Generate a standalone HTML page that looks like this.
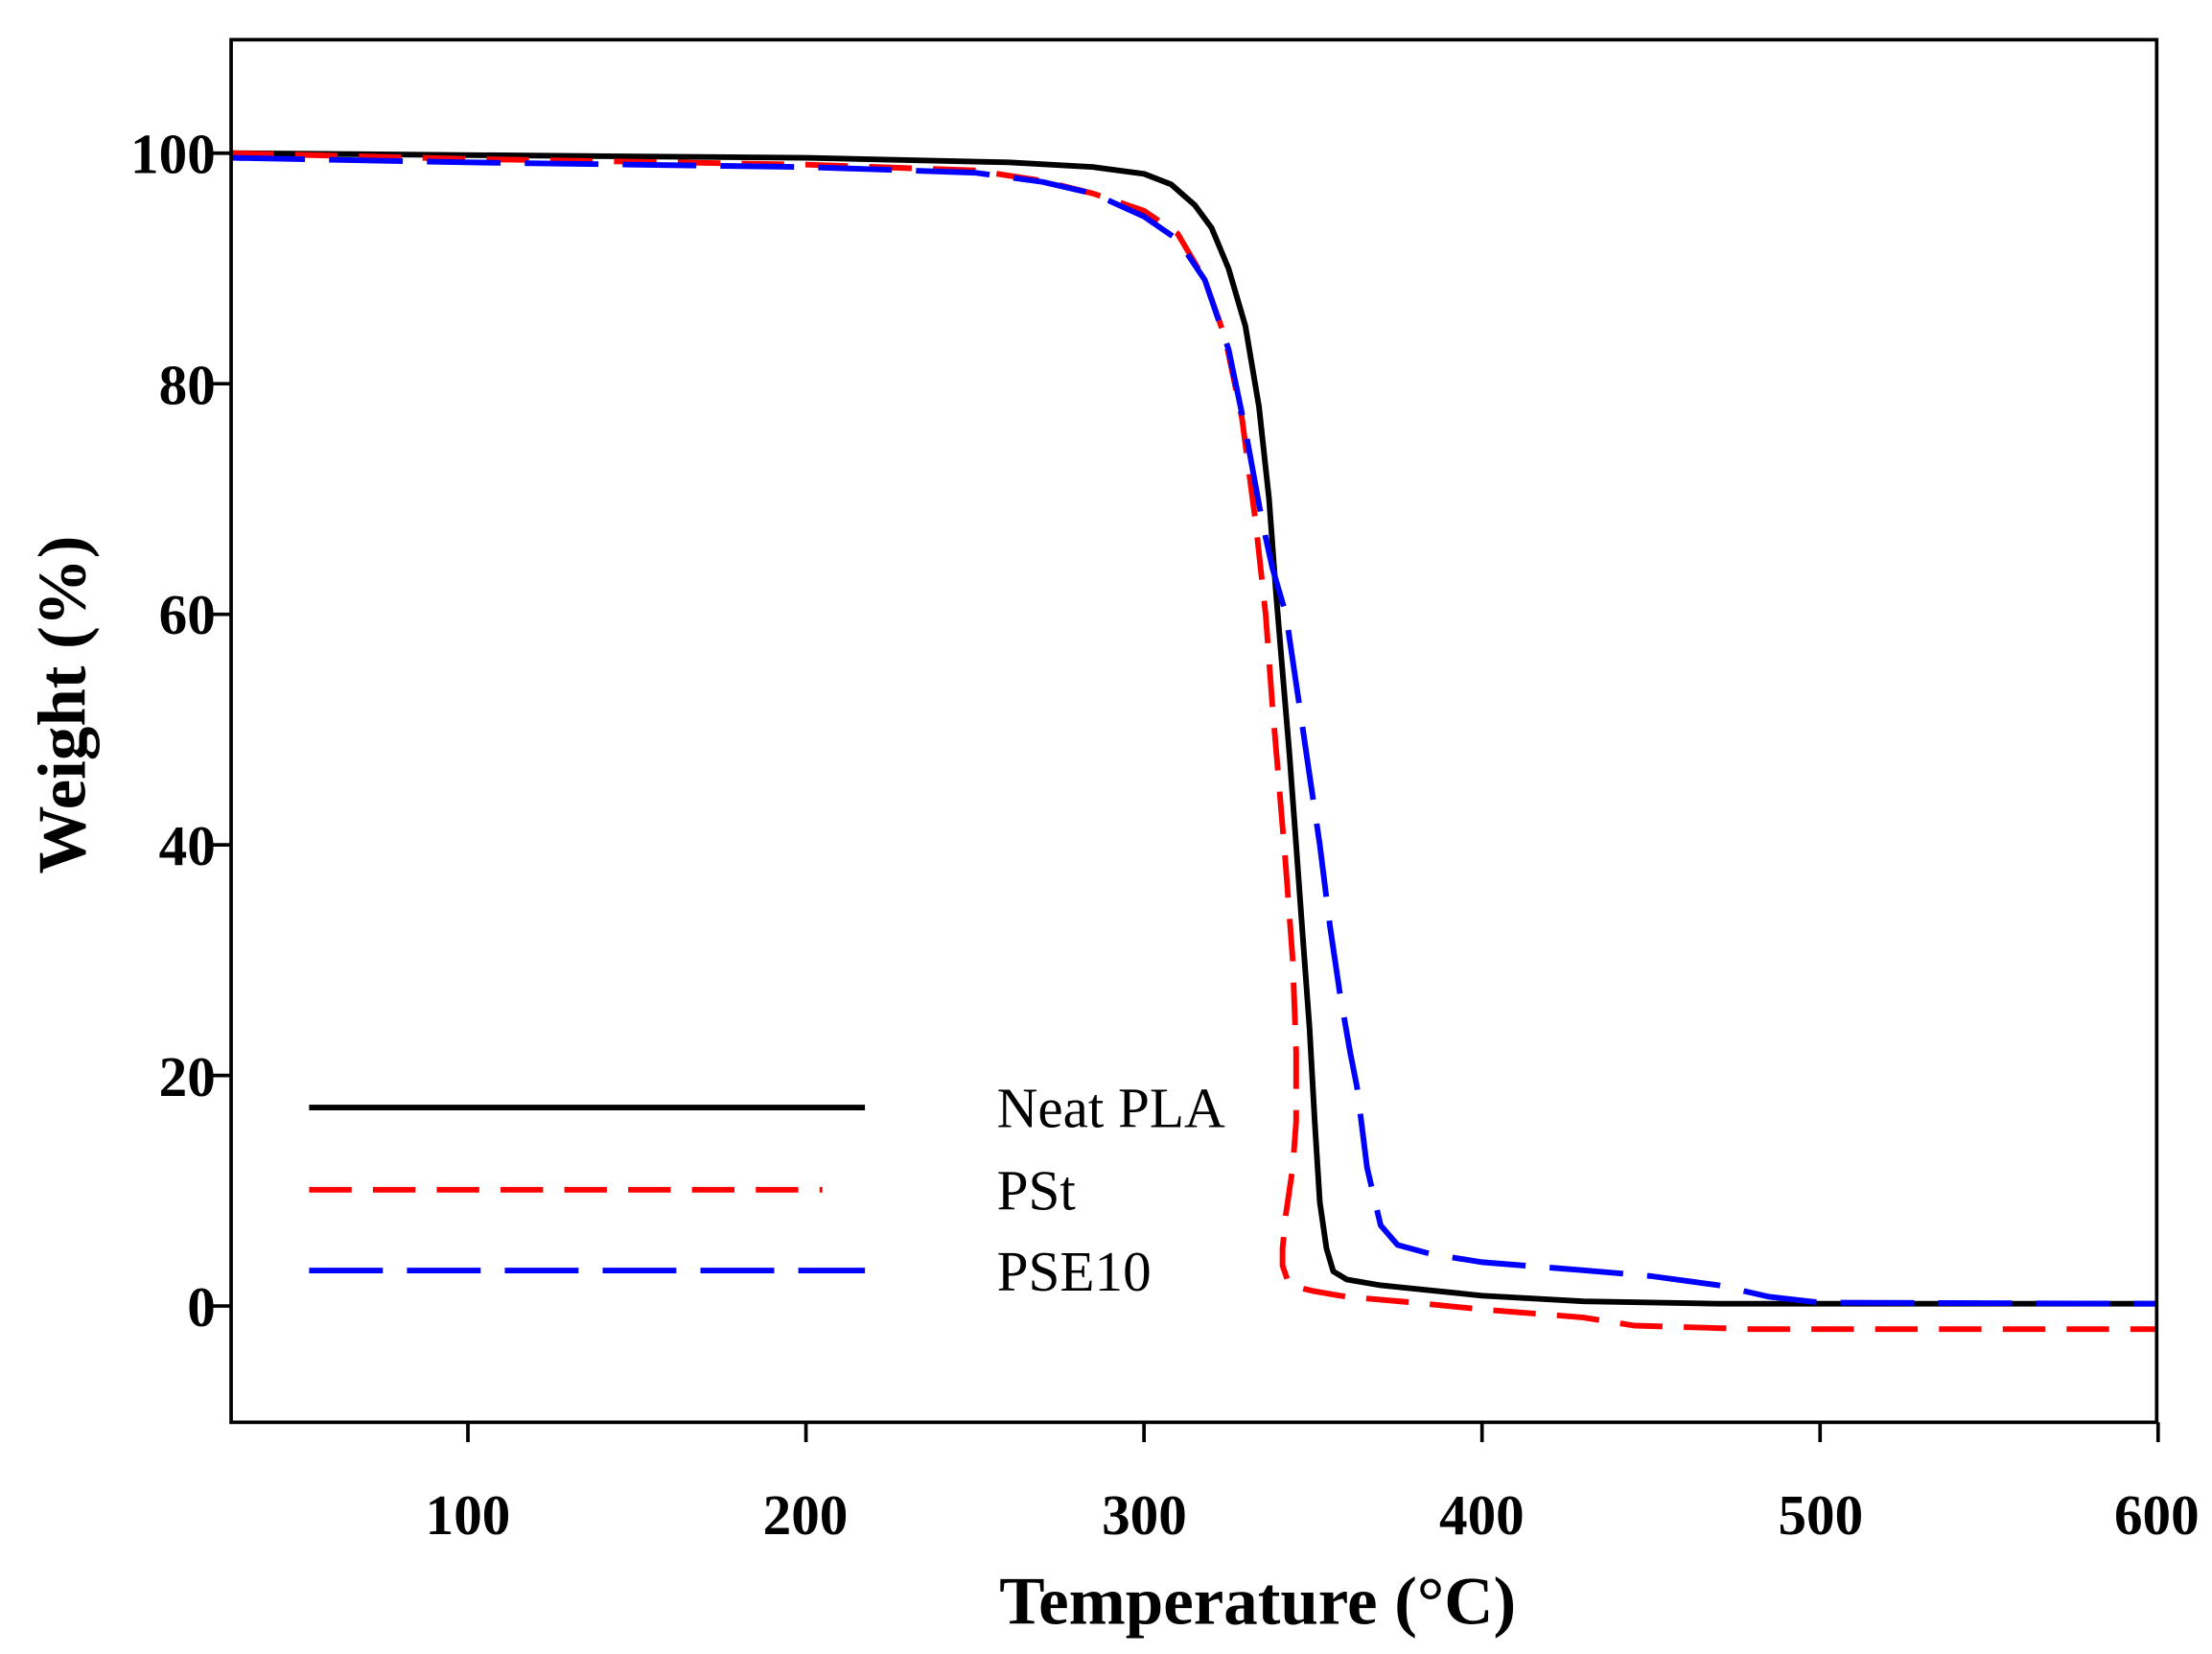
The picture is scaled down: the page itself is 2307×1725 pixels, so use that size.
<!DOCTYPE html>
<html><head><meta charset="utf-8"><style>
html,body{margin:0;padding:0;background:#fff;}
svg{display:block;}
text{font-family:"Liberation Serif",serif;fill:#000;}
</style></head><body>
<svg id="s" width="2307" height="1725" viewBox="0 0 1560 1166.4" preserveAspectRatio="none" xmlns="http://www.w3.org/2000/svg">
<rect x="0" y="0" width="1560" height="1166.4" fill="#fff"/>
<g id="curves" fill="none" stroke-linejoin="round"></g>
<rect x="163" y="28" width="1358" height="975" fill="none" stroke="#000" stroke-width="2.5"/>
<g id="ticks" stroke="#000" stroke-width="2.5"></g>
<g font-weight="bold" font-size="40" text-anchor="end">
<text x="152" y="122">100</text>
<text x="152" y="285">80</text>
<text x="152" y="447">60</text>
<text x="152" y="610">40</text>
<text x="152" y="773">20</text>
<text x="152" y="935">0</text>
</g>
<g font-weight="bold" font-size="40" text-anchor="middle">
<text x="330" y="1082">100</text>
<text x="568" y="1082">200</text>
<text x="807" y="1082">300</text>
<text x="1045" y="1082">400</text>
<text x="1284" y="1082">500</text>
<text x="1521" y="1082">600</text>
</g>
<text x="887" y="1145" font-weight="bold" font-size="48" text-anchor="middle">Temperature (°C)</text>
<text transform="translate(60,497) rotate(-90)" font-weight="bold" font-size="48" text-anchor="middle">Weight (%)</text>
<line x1="218" y1="781" x2="610" y2="781" stroke="#000" stroke-width="4"/>
<line x1="218" y1="839" x2="580" y2="839" stroke="#f00" stroke-width="4" stroke-dasharray="30 15"/>
<line x1="218" y1="896" x2="610" y2="896" stroke="#00f" stroke-width="4" stroke-dasharray="52 17"/>
<g font-size="40">
<text x="703" y="795">Neat PLA</text>
<text x="703" y="853">PSt</text>
<text x="703" y="910">PSE10</text>
</g>
</svg>
<script>
function X(t){return 330+(t-100)*2.384;}
function Y(w){return 921-w*8.13;}
var black=[[30,100],[200,99.6],[260,99.2],[285,98.8],[300,98.2],[308,97.3],[315,95.5],[320,93.5],[325,90],[330,85],[334,78],[337,70],[339,62],[341,55],[343,48],[345,40],[347,32],[349,24],[350.5,16],[352,9],[354,5],[356,3],[360,2.3],[370,1.8],[380,1.5],[400,0.9],[430,0.4],[470,0.2],[600,0.2]];
var red=[[30,100],[100,99.5],[200,99],[250,98.5],[270,97.6],[285,96.5],[300,95],[310,93],[318,89],[324,84],[329,77],[333,68],[336,60],[338,52],[340,45],[342,38],[344,30],[345,22],[345,16],[344,12],[342,8],[341,5],[341,3.5],[343,1.8],[350,1.3],[360,0.8],[380,0.3],[400,-0.3],[430,-1],[445,-1.7],[480,-2],[600,-2]];
var blue=[[30,99.6],[100,99.2],[200,98.8],[250,98.3],[270,97.5],[285,96.5],[300,94.5],[310,92.5],[318,89],[325,83],[330,76],[335,68],[338,64],[342,60],[346,52],[349,46],[352,40],[355,33],[358,27],[361,22],[363,19],[366,12],[370,7],[375,5.3],[385,4.5],[400,3.8],[430,3.1],[450,2.6],[470,1.8],[485,0.8],[500,0.3],[600,0.2]];
function path(a,c,d){var s="M";for(var i=0;i<a.length;i++){s+=(i?" L":"")+X(a[i][0]).toFixed(1)+" "+Y(a[i][1]).toFixed(1);}
return '<path d="'+s+'" stroke="'+c+'" stroke-width="4"'+(d?' stroke-dasharray="'+d+'"':'')+'/>';}
document.getElementById("curves").innerHTML=path(black,"#000","")+path(red,"#f00","30 15")+path(blue,"#00f","52 17");
var t="";[100,200,300,400,500,600].forEach(function(v){var x=X(v);t+='<line x1="'+x+'" y1="1003" x2="'+x+'" y2="1017"/>';});
[0,20,40,60,80,100].forEach(function(v){var y=Y(v);t+='<line x1="150" y1="'+y+'" x2="163" y2="'+y+'"/>';});
document.getElementById("ticks").innerHTML=t;
</script>
</body></html>
